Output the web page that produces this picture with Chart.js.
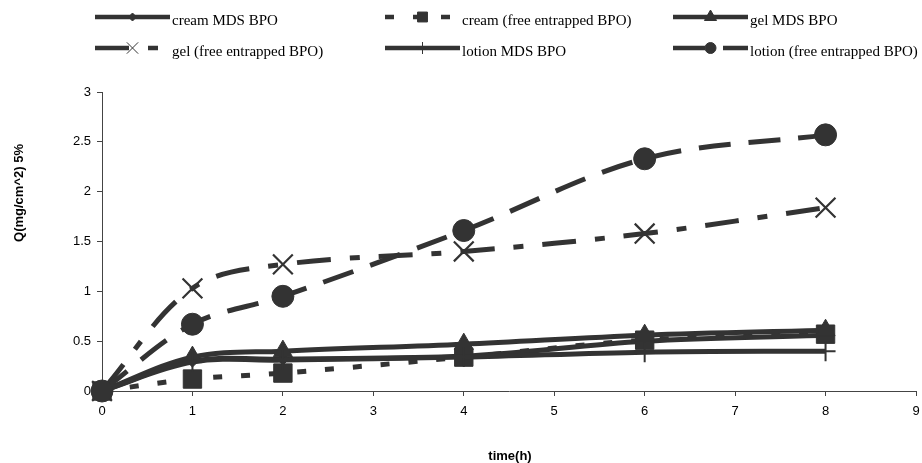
<!DOCTYPE html>
<html>
<head>
<meta charset="utf-8">
<script src="https://cdn.jsdelivr.net/npm/chart.js@4.4.1/dist/chart.umd.min.js"></script>
<style>
  html, body { margin: 0; padding: 0; background: #ffffff; }
  #wrap { width: 922px; height: 463px; position: relative; }
</style>
</head>
<body>
<div id="wrap"><canvas id="c" width="922" height="463"></canvas></div>
<script>
// ---- data ----
const times = [0, 1, 2, 4, 6, 8];
const seriesNames = [
  "cream MDS BPO",
  "cream (free entrapped BPO)",
  "gel MDS BPO",
  "gel (free entrapped BPO)",
  "lotion MDS BPO",
  "lotion (free entrapped BPO)"
];
const creamMDS   = [0, 0.30, 0.32, 0.35, 0.50, 0.56];
const creamFree  = [0, 0.12, 0.18, 0.34, 0.51, 0.57];
const gelMDS     = [0, 0.34, 0.40, 0.47, 0.56, 0.61];
const gelFree    = [0, 1.03, 1.27, 1.40, 1.58, 1.84];
const lotionMDS  = [0, 0.29, 0.31, 0.34, 0.39, 0.40];
const lotionFree = [0, 0.67, 0.95, 1.61, 2.33, 2.57];
const xAxisMin = 0, xAxisMax = 9, xAxisStep = 1;
const yAxisMin = 0, yAxisMax = 3, yAxisStep = 0.5;
const xTitle = "time(h)";
const yTitle = "Q(mg/cm^2) 5%";

// ---- styles ----
const INK = "#333333";
const styles = [
  { dash: [],              point: "rectRot",  r: 6,  bw: 1, lr: 4,   lbw: 1.5 },
  { dash: [9, 19],         point: "rect",     r: 13, bw: 1, lr: 7,   lbw: 1.5 },
  { dash: [],              point: "triangle", r: 11, bw: 1, lr: 7,   lbw: 1.5 },
  { dash: [34, 19, 10, 19],point: "crossRot", r: 14, bw: 2.2, lr: 8, lbw: 3 },
  { dash: [],              point: "cross",    r: 10, bw: 2, lr: 6,   lbw: 2 },
  { dash: [32, 18],        point: "circle",   r: 11, bw: 1, lr: 5.5, lbw: 1.5 }
];
const allSeries = [creamMDS, creamFree, gelMDS, gelFree, lotionMDS, lotionFree];

const datasets = allSeries.map((vals, i) => ({
  label: seriesNames[i],
  data: times.map((t, k) => ({ x: t, y: vals[k] })),
  showLine: true,
  borderColor: INK,
  backgroundColor: INK,
  borderWidth: 5,
  borderDash: styles[i].dash,
  tension: 0.35,
  pointStyle: styles[i].point,
  pointRadius: styles[i].r,
  pointHoverRadius: styles[i].r,
  pointBorderWidth: styles[i].bw,
  pointBackgroundColor: INK,
  pointBorderColor: INK,
  clip: false,
  order: 6 - i
}));

// ---- custom legend + axis titles ----
const legendCols = [95, 385, 673];
const legendRows = [17, 48];
const overlay = {
  id: "overlay",
  afterDraw(chart) {
    const ctx = chart.ctx;
    ctx.save();
    for (let i = 0; i < seriesNames.length; i++) {
      const col = i % 3, row = Math.floor(i / 3);
      const x0 = legendCols[col], y = legendRows[row];
      const len = 75;
      ctx.save();
      ctx.strokeStyle = INK;
      ctx.lineWidth = 4.5;
      ctx.lineCap = "butt";
      ctx.setLineDash(styles[i].dash);
      ctx.beginPath();
      ctx.moveTo(x0, y);
      ctx.lineTo(x0 + len, y);
      ctx.stroke();
      ctx.restore();
      ctx.save();
      ctx.fillStyle = INK;
      ctx.strokeStyle = INK;
      ctx.setLineDash([]);
      if (Chart.helpers && Chart.helpers.drawPoint) {
        Chart.helpers.drawPoint(ctx, {
          pointStyle: styles[i].point,
          radius: styles[i].lr,
          rotation: 0,
          borderWidth: styles[i].lbw
        }, x0 + len / 2, y);
      }
      ctx.restore();
      ctx.fillStyle = "#000";
      ctx.font = "15px 'Liberation Serif', 'Times New Roman', serif";
      ctx.textAlign = "left";
      ctx.textBaseline = "alphabetic";
      ctx.fillText(seriesNames[i], x0 + len + 2, y + 8);
    }
    // axis titles
    ctx.fillStyle = "#000";
    ctx.font = "bold 13px 'Liberation Sans', Arial, sans-serif";
    ctx.textAlign = "center";
    ctx.textBaseline = "middle";
    ctx.fillText(xTitle, 510, 456);
    ctx.save();
    ctx.translate(19, 193);
    ctx.rotate(-Math.PI / 2);
    ctx.fillText(yTitle, 0, 0);
    ctx.restore();
    ctx.restore();
  }
};

const axisFont = { family: "'Liberation Sans', Arial, sans-serif", size: 13 };
const fmt = (v) => String(Math.round(v * 10) / 10);

new Chart(document.getElementById("c"), {
  type: "scatter",
  data: { datasets },
  plugins: [overlay],
  options: {
    responsive: false,
    animation: false,
    devicePixelRatio: 1,
    layout: { autoPadding: false, padding: { top: 92, right: 6, left: 0, bottom: 0 } },
    plugins: {
      legend: { display: false },
      tooltip: { enabled: false },
      title: { display: false }
    },
    scales: {
      x: {
        type: "linear",
        min: xAxisMin,
        max: xAxisMax,
        ticks: { stepSize: xAxisStep, color: "#000", font: axisFont, padding: 8, maxRotation: 0, callback: fmt },
        grid: { drawOnChartArea: false, drawTicks: true, tickLength: 5, color: "#444", lineWidth: 1 },
        border: { display: true, color: "#444", width: 1 },
        afterFit(scale) { scale.height = 72; scale.paddingLeft = 0; scale.paddingRight = 0; }
      },
      y: {
        type: "linear",
        min: yAxisMin,
        max: yAxisMax,
        ticks: { stepSize: yAxisStep, color: "#000", font: axisFont, padding: 6, callback: fmt },
        grid: { drawOnChartArea: false, drawTicks: true, tickLength: 5, color: "#444", lineWidth: 1 },
        border: { display: true, color: "#444", width: 1 },
        afterFit(scale) { scale.width = 102; scale.paddingTop = 0; scale.paddingBottom = 0; }
      }
    }
  }
});
</script>
</body>
</html>
